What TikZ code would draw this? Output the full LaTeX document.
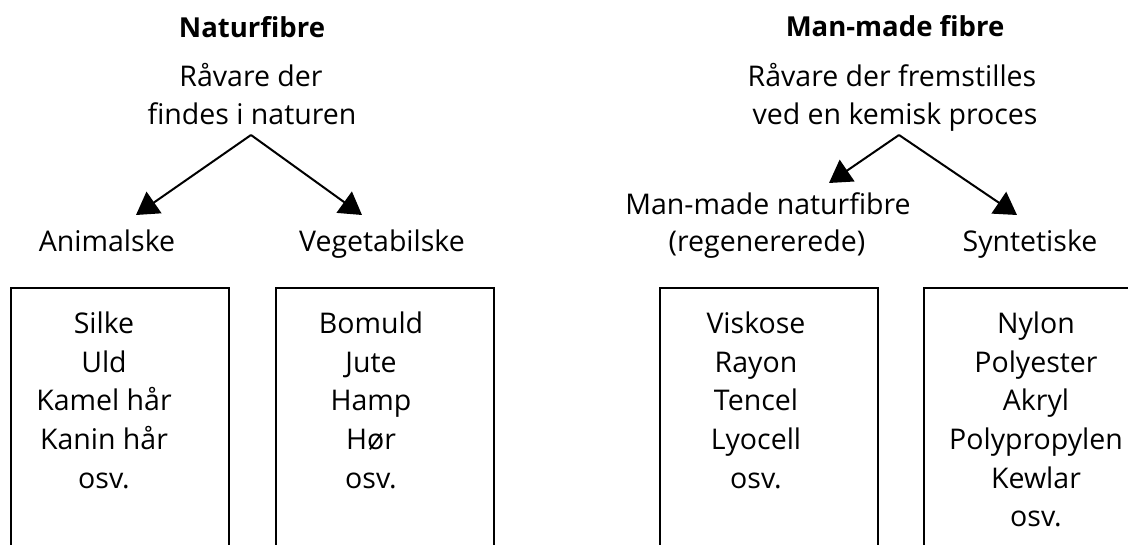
\documentclass[tikz,border=0pt]{standalone}
\usepackage{fontspec}
\setmainfont{Open Sans}
\usetikzlibrary{arrows.meta}
\begin{document}
\begin{tikzpicture}[x=1pt,y=-1pt,
  lbl/.style={font=\fontsize{28.5}{38}\selectfont, anchor=base, inner sep=0pt},
  ttl/.style={font=\fontsize{27.5}{38}\selectfont\bfseries, anchor=base, inner sep=0pt},
  arr/.style={line width=2pt, -{Triangle[length=22pt,width=26pt]}},
  fbox/.style={draw, line width=2pt, minimum width=218pt, minimum height=320pt, anchor=north west, inner sep=0pt}]
\useasboundingbox (0,0) rectangle (1128,545);
\clip (0,0) rectangle (1128,545);
% left tree
\node[ttl] (t1) at (252,38) {Naturfibre};
\node[lbl] (s1a) at (251,87) {Råvare der};
\node[lbl] (s1b) at (252,125) {findes i naturen};
\coordinate (a1) at (251,135);
\coordinate (tA) at (136,215);
\coordinate (tV) at (362,215);
\node[lbl] (anim) at (107,252) {Animalske};
\node[lbl] (veg) at (382,252) {Vegetabilske};
\draw[arr] (a1) -- (tA);
\draw[arr] (a1) -- (tV);
% right tree
\node[ttl] (t2) at (895,37) {Man-made fibre};
\node[lbl] (s2a) at (892,87) {Råvare der fremstilles};
\node[lbl] (s2b) at (895,125) {ved en kemisk proces};
\coordinate (a2) at (899,135);
\coordinate (tM) at (829,183);
\coordinate (tS) at (1017,215);
\node[lbl] (mm) at (768,215) {Man-made naturfibre};
\node[lbl] (reg) at (767,252) {(regenererede)};
\node[lbl] (syn) at (1030,252) {Syntetiske};
\draw[arr] (a2) -- (tM);
\draw[arr] (a2) -- (tS);
% boxes
\node[fbox] (b1) at (10,287) {};
\node[fbox] (b2) at (275,287) {};
\node[fbox] (b3) at (659,287) {};
\node[fbox] (b4) at (923,287) {};
\foreach \t [count=\i from 0] in {Silke,Uld,Kamel hår,Kanin hår,osv.}
  \node[lbl] (l1-\i) at (104,334+38.5*\i) {\t};
\foreach \t [count=\i from 0] in {Bomuld,Jute,Hamp,Hør,osv.}
  \node[lbl] (l2-\i) at (371,334+38.5*\i) {\t};
\foreach \t [count=\i from 0] in {Viskose,Rayon,Tencel,Lyocell,osv.}
  \node[lbl] (l3-\i) at (756,334+38.5*\i) {\t};
\foreach \t [count=\i from 0] in {Nylon,Polyester,Akryl,Polypropylen,Kewlar,osv.}
  \node[lbl] (l4-\i) at (1036,334+38.5*\i) {\t};
\end{tikzpicture}
\end{document}
